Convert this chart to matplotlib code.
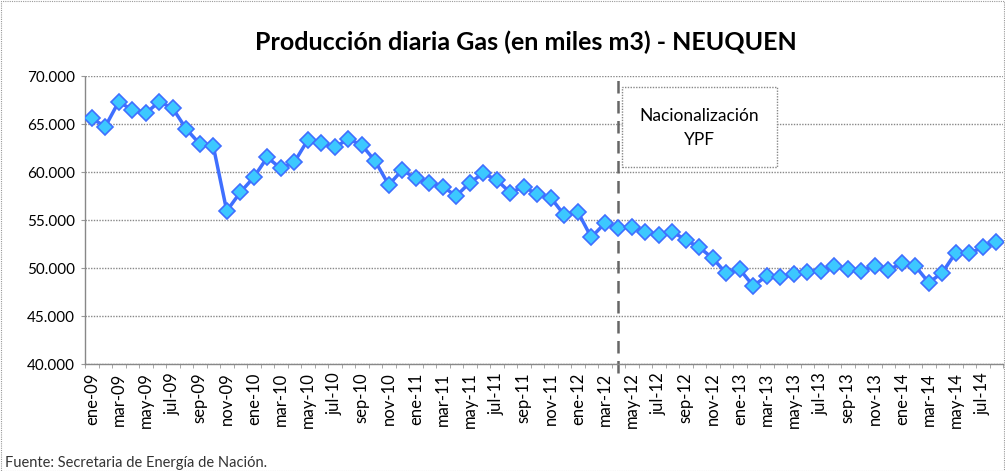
import matplotlib
matplotlib.use("Agg")
import matplotlib.pyplot as plt
from matplotlib.ticker import FuncFormatter, FixedLocator
from matplotlib.patches import Rectangle

months_es = ["ene", "feb", "mar", "abr", "may", "jun", "jul", "ago", "sep", "oct", "nov", "dic"]
categories = [f"{m}-{y:02d}" for y in range(9, 15) for m in months_es][:68]

values = [
    65600, 64720, 67330, 66460, 66110, 67330, 66630, 64480, 62920, 62710, 55940, 57880,
    59440, 61530, 60380, 61010, 63330, 63050, 62570, 63440, 62810, 61130, 58650, 60210,
    59340, 58890, 58470, 57500, 58890, 59860, 59170, 57850, 58470, 57670, 57330, 55520,
    55870, 53190, 54650, 54130, 54310, 53790, 53440, 53790, 52920, 52150, 51010, 49440,
    49860, 48130, 49170, 49030, 49340, 49620, 49720, 50210, 49860, 49720, 50210, 49790,
    50490, 50210, 48470, 49510, 51600, 51530, 52150, 52740,
]

event_label = "Nacionalización\nYPF"
event_category = "abr-12"
title = "Producción diaria Gas (en miles m3) - NEUQUEN"
source = "Fuente: Secretaria de Energía de Nación."

plt.rcParams["font.family"] = ["Lato", "DejaVu Sans"]

fig = plt.figure(figsize=(10.05, 4.71), dpi=100)
ax = fig.add_axes([85 / 1005, 1 - 364 / 471, (1003 - 85) / 1005, (364 - 76) / 471])

x = list(range(len(values)))
ax.plot(x, values, color="#3f6fff", lw=2.5, marker="D", markersize=8.5,
        markerfacecolor="#3cc8ff", markeredgecolor="#3f6fff", markeredgewidth=1.2, zorder=3)

ax.set_xlim(-0.5, len(values) - 0.5)
ax.set_ylim(40000, 70000)
ax.set_yticks(range(40000, 70001, 5000))
ax.yaxis.set_major_formatter(FuncFormatter(lambda v, p: f"{int(v):,}".replace(",", ".")))
ax.grid(axis="y", color="#888888", linestyle=(0, (1, 1)), linewidth=1)
ax.set_axisbelow(True)

ax.set_xticks(x[::2])
ax.set_xticklabels(categories[::2], rotation=90, fontsize=12)
ax.xaxis.set_minor_locator(FixedLocator([i - 0.5 for i in range(len(values) + 1)]))
ax.tick_params(axis="x", which="both", length=3, color="#999999", pad=6)
ax.tick_params(axis="x", which="major", length=0)
ax.tick_params(axis="y", length=3, color="#999999", labelsize=11, pad=4)

for s in ["top", "right"]:
    ax.spines[s].set_visible(False)
for s in ["left", "bottom"]:
    ax.spines[s].set_color("#888888")
    ax.spines[s].set_linestyle((0, (1, 1)))
    ax.spines[s].set_linewidth(1)

ev = categories.index(event_category)
ax.plot([ev, ev], [-0.03, 1.01], transform=ax.get_xaxis_transform(), clip_on=False,
        color="#666666", lw=1.8, linestyle=(0, (5, 3)), zorder=2)

# annotation box
bx0, bx1 = 621.7, 777.3
by0, by1 = 86.7, 166.7
rect = Rectangle((bx0 / 1005, 1 - by1 / 471), (bx1 - bx0) / 1005, (by1 - by0) / 471,
                 transform=fig.transFigure, facecolor="white", edgecolor="#888888",
                 linestyle=(0, (1, 1)), lw=1, zorder=5)
fig.patches.append(rect)
fig.text((bx0 + bx1) / 2 / 1005, 1 - 128 / 471, event_label, ha="center", va="center",
         fontsize=12.5, linespacing=1.6, zorder=6)

fig.text(0.523, 1 - 42 / 471, title, ha="center", va="center", fontsize=18, fontweight="bold")
fig.text(5 / 1005, 1 - 463 / 471, source, ha="left", va="center", fontsize=10.5, color="#333333")

border = Rectangle((0.5 / 1005, 0.5 / 471), 1 - 1.5 / 1005, 1 - 1.5 / 471, transform=fig.transFigure,
                   facecolor="none", edgecolor="#999999", linestyle=(0, (1, 1)), lw=0.8)
fig.patches.append(border)

fig.savefig("out.png", dpi=100)
